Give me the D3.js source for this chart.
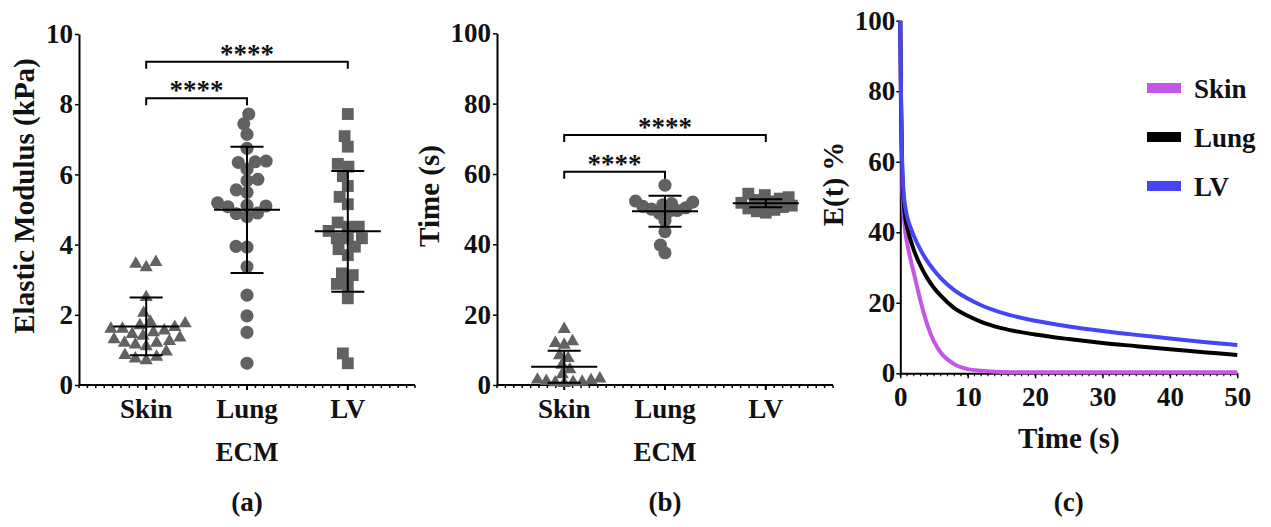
<!DOCTYPE html>
<html>
<head>
<meta charset="utf-8">
<script src="https://cdn.jsdelivr.net/npm/d3@7"></script>
<style>
    body { margin: 0; background: #fff; }
</style>
</head>
<body>
<svg width="1271" height="527"></svg>
<script>
// ---- data ----
var categories = ["Skin", "Lung", "LV"];

// (a) elastic modulus, kPa
var modulusSkin = [3.5, 3.45, 3.35, 2.5, 2.05, 1.8, 1.75, 1.7, 1.65, 1.6, 1.6, 1.55, 1.5, 1.45, 1.4,
                   1.35, 1.3, 1.25, 1.2, 1.2, 1.15, 1.1, 0.95, 0.85, 0.8, 0.75, 0.7];
var modulusLung = [7.72, 7.44, 7.14, 6.74, 6.38, 6.36, 6.34, 6.15, 5.86, 5.82, 5.56, 5.49, 5.19,
                   5.12, 5.1, 5.08, 4.9, 4.88, 4.8, 3.95, 3.93, 3.37, 2.56, 1.97, 1.5, 0.62];
var modulusLV = [7.72, 7.09, 6.79, 6.3, 6.22, 5.95, 5.67, 5.36, 5.15, 4.63, 4.51, 4.51, 4.39, 4.18,
                 4.18, 4.18, 3.94, 3.87, 3.7, 3.18, 3.13, 2.88, 2.85, 2.47, 0.9, 0.62];
var modulusMean = [1.67, 4.99, 4.38];
var modulusSD = [0.82, 1.8, 1.72];
var modulusTicks = [0, 2, 4, 6, 8, 10];
var modulusBrackets = [[0, 1, 8.17], [0, 2, 9.21]];

// (b) relaxation time, s
var timeSkin = [15.9, 12.4, 11.9, 11.4, 8.4, 7.6, 5.7, 4.4, 3.0, 1.8, 1.5, 1.3, 1.1, 0.9, 0.8,
                0.7, 0.5];
var timeLung = [56.8, 52.3, 52.0, 51.6, 51.2, 50.8, 50.4, 50.0, 49.6, 49.2, 48.8, 46.8, 43.6,
                39.8, 37.6];
var timeLV = [54.4, 54.0, 53.4, 53.0, 52.6, 52.2, 51.8, 51.4, 51.0, 50.6, 50.2, 49.8, 49.4, 49.0];
var timeMean = [5.2, 49.4, 51.7];
var timeSD = [4.55, 4.4, 1.15];
var timeTicks = [0, 20, 40, 60, 80, 100];
var timeBrackets = [[0, 1, 60.6], [0, 2, 71.1]];

// (c) stress relaxation E(t) %
var relaxTime = [0, 0.1, 0.25, 0.5, 0.75, 1, 1.5, 2, 3, 4, 5, 6, 8, 10, 12, 15, 20, 25, 30, 35, 40, 45, 50];
var relaxSkin = [100, 75, 56, 45, 40, 37, 32.5, 28.5, 20.5, 13.8, 9.0, 5.9, 2.6, 1.2, 0.7, 0.4,
                 0.3, 0.3, 0.3, 0.3, 0.3, 0.3, 0.3];
var relaxLung = [100, 78, 60, 49, 44, 41.5, 38, 35, 30.5, 27, 24.2, 22, 18.5, 16.3, 14.6, 12.8,
                 11.0, 9.7, 8.6, 7.7, 6.8, 6.0, 5.2];
var relaxLV = [100, 80, 62, 51, 47, 44.5, 41.5, 39, 35, 31.8, 29.2, 27, 23.6, 21.2, 19.3, 17.2,
               14.9, 13.3, 12.0, 10.9, 9.9, 8.9, 8.0];
var relaxXTicks = [0, 10, 20, 30, 40, 50];
var relaxYTicks = [0, 20, 40, 60, 80, 100];
var relaxNames = ["Skin", "Lung", "LV"];
var relaxColors = ["#c455e6", "#000000", "#4545f5"];

// ---- drawing ----
var svg = d3.select("svg");
var fontSize = 27;
var fontFamily = "'Liberation Serif', 'Times New Roman', serif";
var pointColor = "#616161";

function styleAxis(g) {
    g.attr("font-family", null);
    g.select(".domain").attr("stroke", "#000").attr("stroke-width", 2);
    g.selectAll(".tick line").attr("stroke", "#000").attr("stroke-width", 1.5);
    g.selectAll(".tick text").attr("fill", "#111");
}

// simple beeswarm: place each point as close to the centre as it can go
function swarm(values, y, d) {
    var placed = [];
    var order = values.map(function(v, i) { return i; })
        .sort(function(a, b) { return values[a] - values[b]; });
    order.forEach(function(i) {
        var py = y(values[i]);
        var blocked = [];
        placed.forEach(function(p) {
            var dy = Math.abs(p.y - py);
            if (dy < d) {
                var w = Math.sqrt(d * d - dy * dy);
                blocked.push([p.x - w, p.x + w]);
            }
        });
        var candidates = [0];
        blocked.forEach(function(b) { candidates.push(b[0], b[1]); });
        candidates.sort(function(a, b) { return Math.abs(a) - Math.abs(b); });
        var x = candidates.find(function(c) {
            return blocked.every(function(b) { return c <= b[0] + 1e-6 || c >= b[1] - 1e-6; });
        });
        placed.push({x: x, y: py});
    });
    return placed;
}

function scatterPanel(opt) {
    var g = svg.append("g");
    var x = d3.scalePoint().domain(categories).range([opt.left, opt.left + 336]).padding(2 / 3);
    var y = opt.y;
    var y0 = y.range()[0];

    // x axis: long line, minor ticks, category ticks
    g.append("line")
        .attr("x1", opt.left).attr("x2", opt.left + 336)
        .attr("y1", y0).attr("y2", y0)
        .attr("stroke", "#000").attr("stroke-width", 2);
    var minor = d3.scaleLinear().domain([0, 40]).range([opt.left, opt.left + 336]);
    g.append("g").selectAll("line")
        .data(d3.range(41))
        .enter().append("line")
        .attr("x1", function(d) { return minor(d); })
        .attr("x2", function(d) { return minor(d); })
        .attr("y1", y0).attr("y2", y0 + 3)
        .attr("stroke", "#000").attr("stroke-width", 1.5);
    g.append("g").selectAll("line")
        .data(categories)
        .enter().append("line")
        .attr("x1", function(d) { return x(d); })
        .attr("x2", function(d) { return x(d); })
        .attr("y1", y0).attr("y2", y0 + 5)
        .attr("stroke", "#000").attr("stroke-width", 2);
    g.append("g").selectAll("text")
        .data(categories)
        .enter().append("text")
        .attr("x", function(d) { return x(d); })
        .attr("y", y0 + 33)
        .attr("text-anchor", "middle")
        .text(function(d) { return d; });

    // y axis
    var yAxis = g.append("g")
        .attr("transform", "translate(" + opt.left + ",0)")
        .call(d3.axisLeft(y).tickValues(opt.ticks).tickSize(4).tickSizeOuter(0).tickPadding(2));
    styleAxis(yAxis);

    // points
    opt.groups.forEach(function(vals, gi) {
        var pts = swarm(vals, y, opt.spread);
        g.append("g").selectAll("path")
            .data(pts)
            .enter().append("path")
            .attr("d", d3.symbol().type(opt.symbols[gi]).size(opt.sizes[gi]))
            .attr("transform", function(d) {
                return "translate(" + (x(categories[gi]) + d.x) + "," + d.y + ")";
            })
            .attr("fill", pointColor);
    });

    // mean and SD bars
    var bars = g.append("g").selectAll("g")
        .data(categories)
        .enter().append("g")
        .attr("stroke", "#000").attr("stroke-width", 2);
    bars.append("line")
        .attr("x1", function(d) { return x(d) - 33; })
        .attr("x2", function(d) { return x(d) + 33; })
        .attr("y1", function(d, i) { return y(opt.mean[i]); })
        .attr("y2", function(d, i) { return y(opt.mean[i]); });
    bars.append("line")
        .attr("x1", function(d) { return x(d); })
        .attr("x2", function(d) { return x(d); })
        .attr("y1", function(d, i) { return y(opt.mean[i] - opt.sd[i]); })
        .attr("y2", function(d, i) { return y(opt.mean[i] + opt.sd[i]); });
    [-1, 1].forEach(function(s) {
        bars.append("line")
            .attr("x1", function(d) { return x(d) - 16.5; })
            .attr("x2", function(d) { return x(d) + 16.5; })
            .attr("y1", function(d, i) { return y(opt.mean[i] + s * opt.sd[i]); })
            .attr("y2", function(d, i) { return y(opt.mean[i] + s * opt.sd[i]); });
    });

    // significance brackets
    var br = g.append("g").selectAll("g")
        .data(opt.brackets)
        .enter().append("g");
    br.append("path")
        .attr("d", function(d) {
            var x1 = x(categories[d[0]]), x2 = x(categories[d[1]]), yy = y(d[2]);
            return "M" + x1 + "," + (yy + 7) + "V" + yy + "H" + x2 + "V" + (yy + 7);
        })
        .attr("fill", "none").attr("stroke", "#000").attr("stroke-width", 2);
    br.append("text")
        .attr("x", function(d) { return (x(categories[d[0]]) + x(categories[d[1]])) / 2; })
        .attr("y", function(d) { return y(d[2]) + 1; })
        .attr("text-anchor", "middle")
        .text("****");

    // titles
    g.append("text")
        .attr("class", "title")
        .attr("transform", "translate(" + opt.titleX + "," + opt.titleY + ") rotate(-90)")
        .attr("text-anchor", "middle").attr("dy", "0.3em")
        .text(opt.title);
    g.append("text")
        .attr("x", x("Lung")).attr("y", 461)
        .attr("text-anchor", "middle")
        .text("ECM");
    g.append("text")
        .attr("x", x("Lung")).attr("y", 511)
        .attr("text-anchor", "middle")
        .text(opt.letter);
}

scatterPanel({
    left: 79,
    y: d3.scaleLinear().domain([0, 10]).range([385, 34]),
    ticks: modulusTicks,
    groups: [modulusSkin, modulusLung, modulusLV],
    symbols: [d3.symbolTriangle, d3.symbolCircle, d3.symbolSquare],
    sizes: [75, 135, 140],
    spread: 11,
    mean: modulusMean,
    sd: modulusSD,
    brackets: modulusBrackets,
    title: "Elastic Modulus (kPa)",
    titleX: 25, titleY: 196,
    letter: "(a)"
});

scatterPanel({
    left: 497,
    y: d3.scaleLinear().domain([0, 100]).range([385, 33.3]),
    ticks: timeTicks,
    groups: [timeSkin, timeLung, timeLV],
    symbols: [d3.symbolTriangle, d3.symbolCircle, d3.symbolSquare],
    sizes: [75, 135, 140],
    spread: 9,
    mean: timeMean,
    sd: timeSD,
    brackets: timeBrackets,
    title: "Time (s)",
    titleX: 430, titleY: 196,
    letter: "(b)"
});

// ---- panel (c) ----
var gc = svg.append("g");
var xc = d3.scaleLinear().domain([0, 50]).range([900.3, 1237.3]);
var yc = d3.scaleLinear().domain([0, 100]).range([373.3, 20.7]);

gc.append("g").selectAll("line")
    .data(d3.range(51))
    .enter().append("line")
    .attr("x1", function(d) { return xc(d); })
    .attr("x2", function(d) { return xc(d); })
    .attr("y1", yc(0)).attr("y2", yc(0) + 3)
    .attr("stroke", "#000").attr("stroke-width", 1.2);

var xAxisC = gc.append("g")
    .attr("transform", "translate(0," + yc(0) + ")")
    .call(d3.axisBottom(xc).tickValues(relaxXTicks).tickSize(5).tickSizeOuter(0).tickPadding(9));
styleAxis(xAxisC);
xAxisC.selectAll(".tick text").attr("y", 33).attr("dy", 0);

var yAxisC = gc.append("g")
    .attr("transform", "translate(" + xc(0) + ",0)")
    .call(d3.axisLeft(yc).tickValues(relaxYTicks).tickSize(4).tickSizeOuter(0).tickPadding(1));
styleAxis(yAxisC);

var series = [relaxSkin, relaxLung, relaxLV];
var line = d3.line()
    .x(function(d) { return xc(d[0]); })
    .y(function(d) { return yc(d[1]); })
    .curve(d3.curveMonotoneX);

gc.append("g").selectAll("path")
    .data(series)
    .enter().append("path")
    .attr("d", function(s) { return line(relaxTime.map(function(t, i) { return [t, s[i]]; })); })
    .attr("fill", "none")
    .attr("stroke", function(d, i) { return relaxColors[i]; })
    .attr("stroke-width", 4)
    .attr("stroke-linejoin", "round");

// legend
var legend = gc.append("g").selectAll("g")
    .data(relaxNames)
    .enter().append("g")
    .attr("transform", function(d, i) { return "translate(1147," + (88 + i * 49) + ")"; });
legend.append("rect")
    .attr("x", 0).attr("y", -5)
    .attr("width", 34).attr("height", 10)
    .attr("fill", function(d, i) { return relaxColors[i]; });
legend.append("text")
    .attr("x", 47).attr("y", 10)
    .text(function(d) { return d; });

gc.append("text")
    .attr("class", "title")
    .attr("transform", "translate(834,184) rotate(-90)")
    .attr("text-anchor", "middle").attr("dy", "0.3em")
    .text("E(t) %");
gc.append("text")
    .attr("class", "title")
    .attr("x", xc(25)).attr("y", 448)
    .attr("text-anchor", "middle")
    .text("Time (s)");
gc.append("text")
    .attr("x", xc(25)).attr("y", 511)
    .attr("text-anchor", "middle")
    .text("(c)");

// one font for every label; axis titles a touch larger
svg.selectAll("text")
    .style("font-family", fontFamily)
    .style("font-weight", "bold")
    .style("font-size", fontSize + "px")
    .style("fill", "#111");
svg.selectAll("text.title")
    .style("font-size", (fontSize + 2) + "px");
</script>
</body>
</html>
